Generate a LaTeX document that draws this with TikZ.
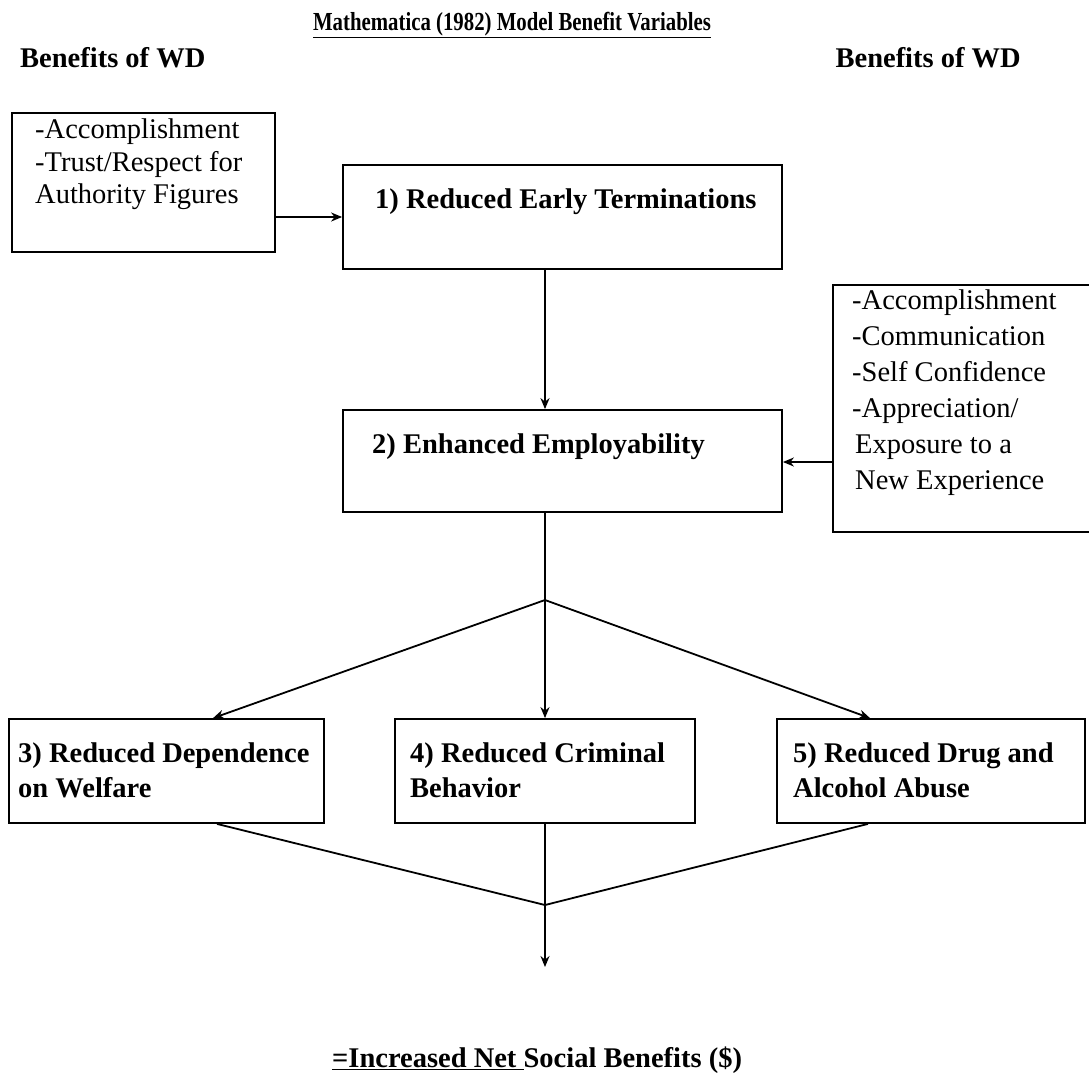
\documentclass[tikz,border=0pt]{standalone}
\usepackage{fontspec}
\setmainfont{Liberation Serif}
\usetikzlibrary{arrows.meta,fit}

\tikzset{
  box/.style={draw, line width=1.8pt, inner sep=0pt, rectangle},
  conn/.style={line width=1.8pt},
  arr/.style={conn, -{Stealth[length=11pt,width=9pt]}},
  plain/.style={inner sep=0pt, align=left, font=\fontsize{28.5}{32.5}\selectfont},
  plainwide/.style={inner sep=0pt, align=left, font=\fontsize{28.5}{36}\selectfont},
  heavy/.style={inner sep=0pt, align=left, font=\fontsize{28.5}{35}\selectfont\bfseries},
}

\begin{document}
\begin{tikzpicture}[x=1pt,y=-1pt]
\useasboundingbox (0,0) rectangle (1089,1077);
\clip (0,0) rectangle (1089,1077);

% headings
\node[heavy, font=\fontsize{26}{30}\selectfont\bfseries] (title) at (512,25)
  {\underline{\scalebox{0.8}[1]{Mathematica (1982) Model Benefit Variables}}};
\node[heavy, anchor=west] (hdl) at (20,58) {Benefits of WD};
\node[heavy, anchor=east] (hdr) at (1021,58) {Benefits of WD};

% side boxes listing the benefits
\node[box, fit={(12,113) (275,252)}] (sideA) {};
\node[plain, anchor=west] (sideAtxt) at (35,164.5)
  {-Accomplishment\\-Trust/Respect for\\Authority Figures};

\node[box, fit={(833,285) (1092,532)}] (sideB) {};
\node[plainwide, anchor=west] (sideBtxt) at (852,393)
  {-Accomplishment\\-Communication\\-Self Confidence\\-Appreciation/\\\hspace{3pt}Exposure to a\\\hspace{3pt}New Experience};

% main chain
\node[box, fit={(343,165) (782,269)}] (b1) {};
\node[heavy, anchor=west] (b1txt) at (375,202) {1) Reduced Early Terminations};

\node[box, fit={(343,410) (782,512)}] (b2) {};
\node[heavy, anchor=west] (b2txt) at (372,447) {2) Enhanced Employability};

\node[box, fit={(9,719) (324,823)}] (b3) {};
\node[heavy, anchor=west] (b3txt) at (18,770.5) {3) Reduced Dependence\\on Welfare};

\node[box, fit={(395,719) (695,823)}] (b4) {};
\node[heavy, anchor=west] (b4txt) at (410,770.5) {4) Reduced Criminal\\Behavior};

\node[box, fit={(777,719) (1085,823)}] (b5) {};
\node[heavy, anchor=west] (b5txt) at (793,770.5) {5) Reduced Drug and\\Alcohol Abuse};

% result
\node[heavy, anchor=west] (result) at (332,1060)
  {\underline{=Increased Net }Social Benefits (\$)};

% connector helpers
\coordinate (yA) at (0,217);
\coordinate (yB) at (0,462);
\coordinate (spine) at (545,0);
\coordinate (apex) at (545,600);
\coordinate (merge) at (545,905);
\coordinate (endpt) at (545,967);
\coordinate (x3in) at (213,0);
\coordinate (x3out) at (217,0);
\coordinate (x5in) at (870,0);
\coordinate (x5out) at (868,0);

% connectors
\draw[arr] (sideA.east |- yA) -- (b1.west |- yA);
\draw[arr] (sideB.west |- yB) -- (b2.east |- yB);
\draw[arr] (b1.south -| spine) -- (b2.north -| spine);
\draw[conn] (b2.south -| spine) -- (apex);
\draw[arr] (apex) -- (b3.north -| x3in);
\draw[arr] (apex) -- (b4.north -| spine);
\draw[arr] (apex) -- (b5.north -| x5in);
\draw[conn] (b3.south -| x3out) -- (merge);
\draw[conn] (b5.south -| x5out) -- (merge);
\draw[arr] (b4.south -| spine) -- (endpt);
\end{tikzpicture}
\end{document}
